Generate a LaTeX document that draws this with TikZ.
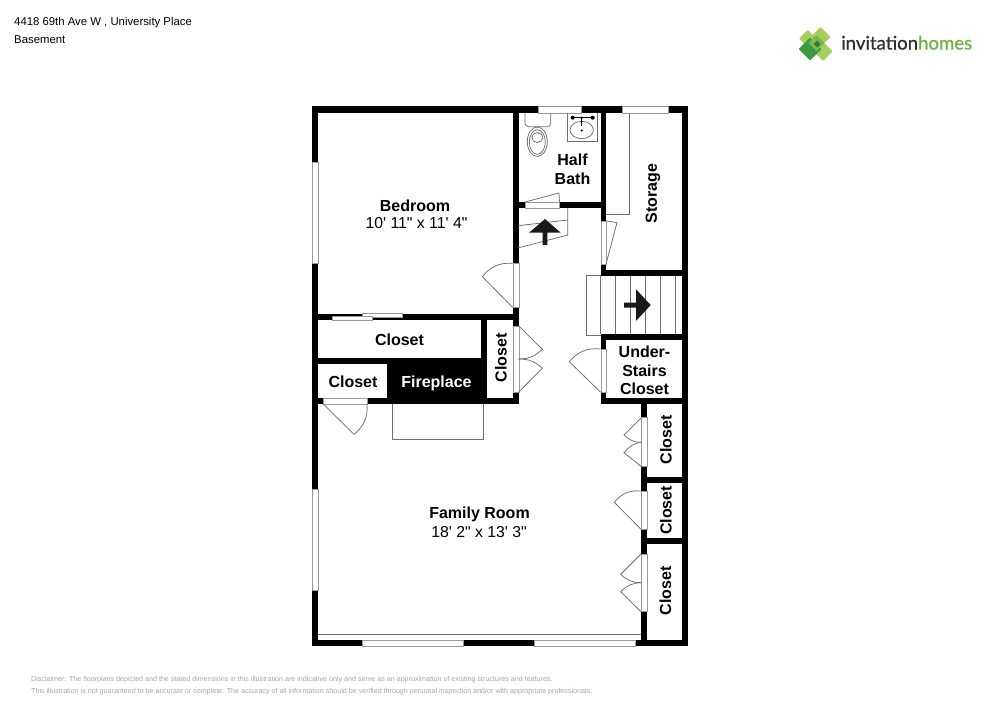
\documentclass[tikz,border=0pt]{standalone}
\usepackage{fontspec}
\setmainfont[Ligatures=TeXOff]{Liberation Sans}
\newfontfamily\logofont[FakeBold=0.6]{Lato}
\definecolor{linegray}{HTML}{6E6E6E}
\definecolor{wingray}{HTML}{9A9A9A}
\definecolor{discl}{HTML}{A6A6A6}
\definecolor{logodark}{HTML}{2F2F2F}
\definecolor{logogreen}{HTML}{6CB33F}
\definecolor{lg1}{HTML}{A6CE5A}
\definecolor{lg2}{HTML}{79B94A}
\definecolor{lg3}{HTML}{3F9A45}
\definecolor{lg4}{HTML}{2E7D3A}
\tikzset{
  wall/.style={fill=black,draw=none},
  room/.style={fill=white,draw=none},
  opening/.style={fill=white,draw=wingray,line width=.8pt},
  thin/.style={draw=linegray,line width=.75pt},
  leaf/.style={draw=linegray,line width=.75pt},
  roomlabel/.style={font=\fontsize{16}{18.5}\selectfont\bfseries,align=center,text=black,inner sep=0pt},
  dims/.style={font=\fontsize{15.8}{18.5}\selectfont,align=center,text=black,inner sep=0pt},
  header/.style={font=\fontsize{11.35}{12}\selectfont,anchor=base west,inner sep=0pt,text=black},
  disclaimer/.style={font=\fontsize{7.13}{8}\selectfont,anchor=base west,inner sep=0pt,text=discl},
  stairarrow/.style={fill=black!90,draw=none},
}
\newcommand{\dia}[4]{\fill[#4,rounded corners=1pt] (#1-#3,#2) -- (#1,#2-#3) -- (#1+#3,#2) -- (#1,#2+#3) -- cycle;}
\begin{document}
\begin{tikzpicture}[x=1pt,y=-1pt]
\useasboundingbox (0,0) rectangle (1000,707);
\fill[white] (0,0) rectangle (1000,707);

% ---- walls
\path[wall] (312,106) rectangle (688,113);
\path[wall] (312,106) rectangle (318,646);
\path[wall] (682,106) rectangle (688,646);
\path[wall] (312,640) rectangle (688,646);
\path[wall] (513,113) rectangle (519,404);
\path[wall] (519,202) rectangle (606,208);
\path[wall] (601,113) rectangle (606,276);
\path[wall] (601,270) rectangle (682,276);
\path[wall] (601,334) rectangle (682,340);
\path[wall] (601,334) rectangle (606,404);
\path[wall] (601,398) rectangle (682,404);
\path[wall] (641,404) rectangle (647,646);
\path[wall] (647,476.7) rectangle (682,482.7);
\path[wall] (647,538.3) rectangle (682,544.3);
\path[wall] (318,313.5) rectangle (519,404);
% rooms carved out of the closet block
\path[room] (318,320) rectangle (480.7,357.7);
\path[room] (318,364) rectangle (387,397.7);
\path[room] (487.3,320) rectangle (513,397.7);

% ---- windows
\path[opening] (312,162) rectangle (318,263);
\path[opening] (312,489) rectangle (318,590);
\path[opening] (538,106.5) rectangle (581,113);
\path[opening] (622,106.5) rectangle (668,113);
\path[opening] (362,640) rectangle (463,646);
\path[opening] (534,640) rectangle (635,646);
\draw[thin,line width=.9pt] (318,634) -- (641,634);

% ---- door openings
\path[opening] (513,263.3) rectangle (519,307.3);
\path[opening] (513,326) rectangle (519,392.3);
\path[opening] (525,202) rectangle (559.5,208);
\path[opening] (601,221) rectangle (606,264);
\path[opening] (601,349) rectangle (606,392.3);
\path[opening] (323.3,398) rectangle (367,404);
\path[opening] (641.5,417.7) rectangle (647,466.7);
\path[opening] (641.5,491) rectangle (647,529.3);
\path[opening] (641.5,554) rectangle (647,611.7);
% stair opening
\path[room] (601,276) rectangle (606,334);

% ---- sliding closet doors
\path[opening] (362,313.7) rectangle (402,317);
\path[opening] (332,316.7) rectangle (372,320);

% ---- door leaves
\draw[leaf] (512.7,307.3) -- (482.3,276.7) to[bend left=28] (512.7,263.3);
\draw[leaf] (518.5,325.7) -- (542.3,349.3) to[bend left=22] (518.5,359);
\draw[leaf] (518.5,392.3) -- (542.3,368.3) to[bend right=22] (518.5,359);
\draw[leaf] (600.7,392.3) -- (569.3,361.7) to[bend left=28] (600.7,349);
\draw[leaf] (323.3,404) -- (354,434.3) to[bend right=28] (367,404);
\draw[leaf] (641.5,417.7) -- (624,435) to[bend right=22] (641.5,442.3);
\draw[leaf] (641.5,466.7) -- (624,452.7) to[bend left=22] (641.5,442.3);
\draw[leaf] (641,491) to[bend right=28] (614.3,502.3) -- (641,529.3);
\draw[leaf] (641,554) -- (620.7,574.3) to[bend right=22] (641,582.7);
\draw[leaf] (641,611.7) -- (620.7,591.7) to[bend left=22] (641,582.7);
\draw[leaf] (525,202) -- (559,193) -- (559.5,202);
\draw[leaf] (606,220.7) -- (617,222.7) -- (606,264);

% ---- hearth
\draw[thin] (392.7,404) -- (392.7,439) -- (483.3,439) -- (483.3,404);

% ---- storage shelf
\draw[thin] (629,113) -- (629,214) -- (606,214);

% ---- hall stairs
\draw[thin] (518,225.7) -- (567.7,220);
\draw[thin] (518,248) -- (567.7,235) -- (567.7,208);
\path[stairarrow] (545,219) -- (560.7,232.7) -- (547.3,232.7) -- (547.3,245) -- (542.7,245) -- (542.7,232.7) -- (529,232.7) -- cycle;

% ---- main stairs
\draw[thin] (600.7,275.5) -- (586.3,275.5) -- (586.3,335) -- (600.7,335);
\foreach \sx in {600.7,615.7,630.7,645.7,660.7,675}{\draw[thin] (\sx,276) -- (\sx,334);}
\path[stairarrow] (650.7,305) -- (636,321) -- (636,307.7) -- (624,307.7) -- (624,302.7) -- (636,302.7) -- (636,289.3) -- cycle;

% ---- toilet
\draw[thin,rounded corners=3.5pt] (525,113) -- (525,126.7) -- (550.7,126.7) -- (550.7,113);
\draw[thin] (537.3,141.7) ellipse [x radius=10,y radius=14.7];
\draw[thin] (537.3,142) ellipse [x radius=8,y radius=12.3];
\draw[thin] (537.3,137.5) ellipse [x radius=5.5,y radius=5];

% ---- sink
\draw[thin] (567,113) -- (567,141.7) -- (597,141.7) -- (597,113);
\draw[thin] (581.7,130) ellipse [x radius=11.7,y radius=8.7];
\draw[black,line width=1.1pt] (572.7,117.7) -- (592.7,117.7);
\draw[black,line width=1.1pt] (581.7,117.7) -- (581.7,125.7);
\fill[black] (572.7,117.7) circle (2) (592.7,117.7) circle (2) (581.7,117.7) circle (1.4) (581.7,130.5) circle (1.1);

% ---- labels
\node[roomlabel] (bedroom) at (415,205.5) {Bedroom};
\node[dims] (bedroomdim) at (416.5,223.5) {10' 11" x 11' 4"};
\node[roomlabel] (halfbath) at (572.5,169.5) {Half\\Bath};
\node[roomlabel,rotate=90] (storage) at (653,193.5) {Storage};
\node[roomlabel] (closeta) at (399.5,340) {Closet};
\node[roomlabel] (closetb) at (353,382) {Closet};
\node[roomlabel,text=white] (fireplace) at (436.5,383) {Fireplace};
\node[roomlabel,rotate=90] (closetc) at (501,358) {Closet};
\node[roomlabel] (understairs) at (644.5,370.5) {Under-\\Stairs\\Closet};
\node[roomlabel,rotate=90] (closetd) at (666,440) {Closet};
\node[roomlabel,rotate=90] (closete) at (666,510.5) {Closet};
\node[roomlabel,rotate=90] (closetf) at (665.5,591) {Closet};
\node[roomlabel] (family) at (479.5,514.5) {Family Room};
\node[dims] (familydim) at (479,532.5) {18' 2" x 13' 3"};

% ---- header and footer
\node[header] (addr) at (14,25) {4418 69th Ave W , University Place};
\node[header] (level) at (14,43) {Basement};
\node[disclaimer] (d1) at (31,681) {Disclaimer: The floorplans depicted and the stated dimensions in this illustration are indicative only and serve as an approximation of existing structures and features.};
\node[disclaimer] (d2) at (31,693) {This illustration is not guaranteed to be accurate or complete. The accuracy of all information should be verified through personal inspection and/or with appropriate professionals.};

% ---- logo
\dia{807.5}{38.5}{8.5}{lg1}
\dia{820.5}{37}{10}{lg1}
\dia{823}{51.5}{9.5}{lg1}
\dia{810}{49}{11.5}{lg3}
\dia{816.5}{43}{8}{lg2}
\fill[lg4] (813.5,44) -- (817,40.5) -- (820.5,44) -- (817,47.5) -- cycle;
\node[anchor=base west,inner sep=0pt,font=\logofont\fontsize{18.6}{20}\selectfont] (logotext) at (841,49.5) {\textcolor{logodark}{invitation}\textcolor{logogreen}{homes}};
\end{tikzpicture}
\end{document}
